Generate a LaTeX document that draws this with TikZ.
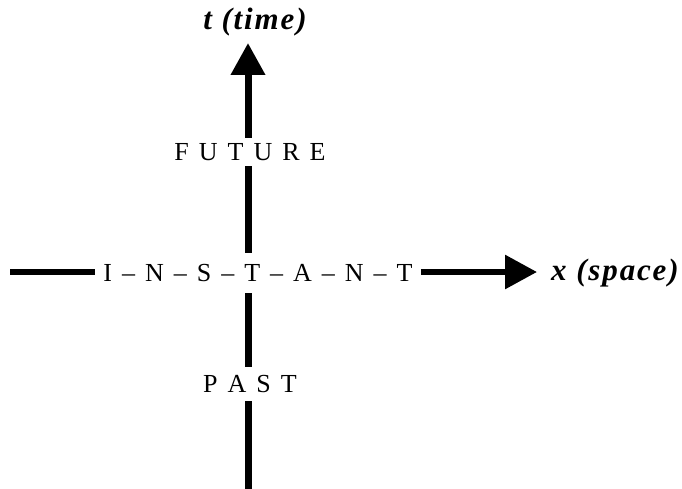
\documentclass[tikz,border=0pt]{standalone}
\usepackage{fontspec}
\setmainfont{Liberation Serif}
\usetikzlibrary{arrows.meta}
\newcommand{\lsp}{\hspace{10pt}}
\begin{document}
\begin{tikzpicture}[x=1pt,y=-1pt,
  axisv/.style={line width=7pt},
  axish/.style={line width=6pt},
  bigtip/.style={-{Triangle[length=32pt,width=33pt]}},
  word/.style={font=\fontsize{26}{30}\selectfont, inner sep=0pt},
  axlabel/.style={font=\fontsize{31}{35}\selectfont\bfseries\itshape\addfontfeatures{LetterSpace=6}, inner sep=0pt}]
\useasboundingbox (0,0) rectangle (682,489);
% nodes
\coordinate (bottom) at (248,489);
\coordinate (ttip) at (248,43);
\coordinate (left) at (10,272);
\coordinate (xtip) at (537,272);
\node[word, minimum height=34pt] (past) at (250,384) {P\lsp A\lsp S\lsp T};
\node[word, minimum height=40pt, inner xsep=8pt] (instant) at (258,273)
  {I\lsp\textendash\lsp N\lsp\textendash\lsp S\lsp\textendash\lsp T\lsp\textendash\lsp A\lsp\textendash\lsp N\lsp\textendash\lsp T};
\node[word, minimum height=28pt] (future) at (250,152) {F\lsp U\lsp T\lsp U\lsp R\lsp E};
\node[axlabel, anchor=base] (tlabel) at (255,30) {t (time)};
\node[axlabel, anchor=base west] (xlabel) at (551,280) {x (space)};
% vertical axis
\draw[axisv] (bottom) -- (past.south -| bottom);
\draw[axisv] (past.north -| bottom) -- (instant.south -| bottom);
\draw[axisv] (instant.north -| bottom) -- (future.south -| bottom);
\draw[axisv, bigtip] (future.north -| bottom) -- (ttip);
% horizontal axis
\draw[axish] (left) -- (instant.west |- left);
\draw[axish, bigtip] (instant.east |- left) -- (xtip);
\end{tikzpicture}
\end{document}
